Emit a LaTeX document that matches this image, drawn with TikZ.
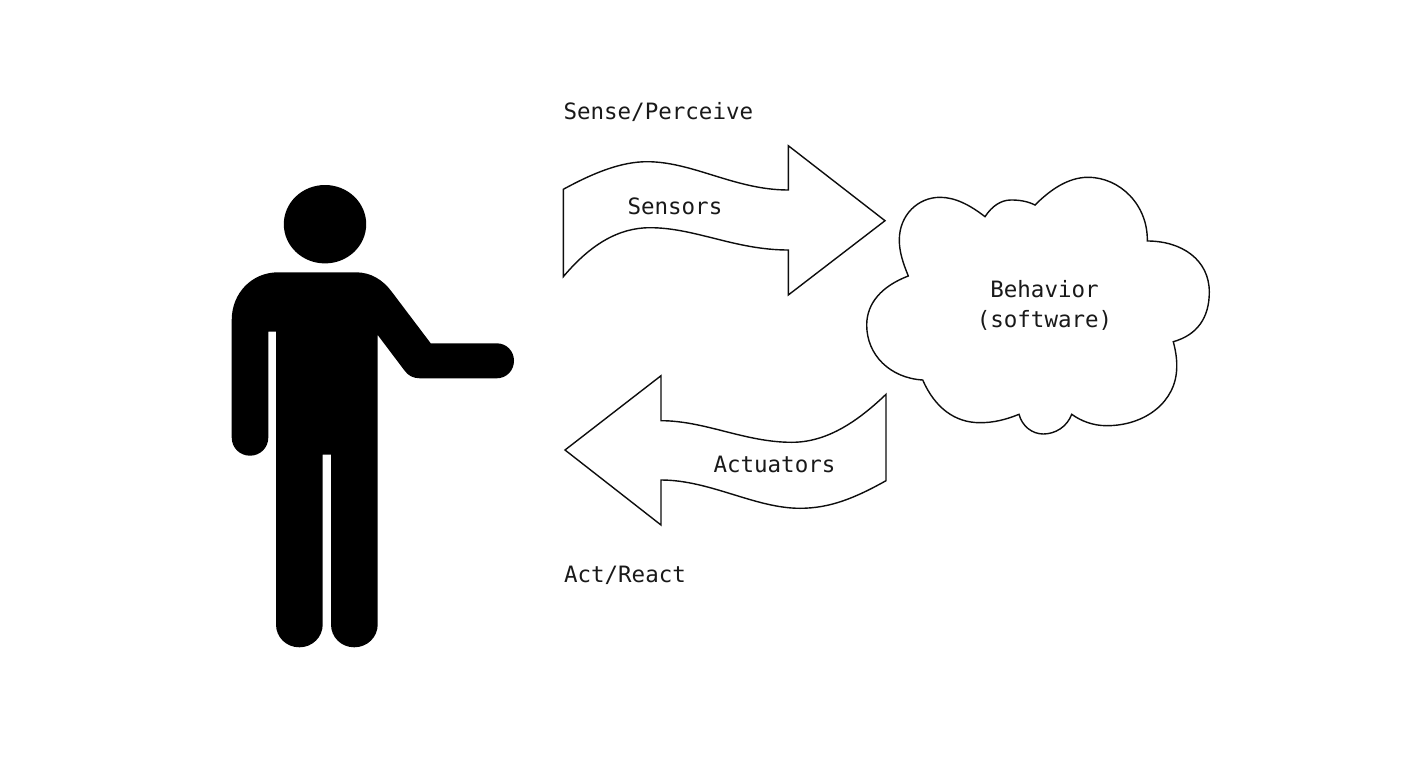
\documentclass[tikz,border=0pt]{standalone}
\usepackage{fontspec}
\setmonofont{DejaVu Sans Mono}
\tikzset{
  figure/.style={fill=black,draw=none},
  outline/.style={draw=black!95,line width=1.4pt,fill=white,line join=miter},
  lbl/.style={inner sep=0pt,outer sep=0pt,text=black!90,font=\fontsize{22.5}{30}\selectfont\ttfamily},
}
\begin{document}
\begin{tikzpicture}[x=1pt,y=-1pt]
\useasboundingbox (0,0) rectangle (1404,776);
% person
\fill[figure] (325,224.2) ellipse [x radius=41.2pt,y radius=39.2pt];
\fill[figure] (278,272.3) -- (356,272.3)
  .. controls (371,272.3) and (383,280) .. (391.7,291.7)
  -- (430.7,343.3) -- (496.7,343.3)
  .. controls (506.5,343.3) and (514,351) .. (514,360.8)
  .. controls (514,370.5) and (506.5,378.3) .. (496.7,378.3)
  -- (420,378.3)
  .. controls (413,378.3) and (408,375.5) .. (404.5,370.5)
  -- (377.7,335) -- (377.7,624.5)
  .. controls (377.7,637) and (367.5,647.3) .. (354.2,647.3)
  .. controls (341,647.3) and (331,637) .. (331,624.5)
  -- (331,454.5) -- (322.7,454.5) -- (322.7,624.5)
  .. controls (322.7,637) and (312.5,647.3) .. (299.4,647.3)
  .. controls (286,647.3) and (276,637) .. (276,624.5)
  -- (276,331.7) -- (268.3,331.7) -- (268.3,437.5)
  .. controls (268.3,448) and (260,455.7) .. (250,455.7)
  .. controls (240,455.7) and (231.7,448) .. (231.7,437.5)
  -- (231.7,320)
  .. controls (231.7,293) and (252,272.3) .. (278,272.3) -- cycle;
% top arrow
\draw[outline] (563.3,189.3)
  .. controls (595,172) and (622,161.7) .. (647,161.7)
  .. controls (693,161.7) and (735,190) .. (788.3,190)
  -- (788.3,145.7) -- (885,220.7) -- (788.3,295) -- (788.3,250)
  .. controls (735,250) and (695,227.7) .. (650,227.7)
  .. controls (618,227.7) and (590,245) .. (563.3,276.7) -- cycle;
% bottom arrow
\draw[outline] (565,450) -- (661,375.7) -- (661,420.7)
  .. controls (705,420.7) and (745,442.3) .. (791.7,442.3)
  .. controls (825,442.3) and (855,424) .. (886,394.3)
  -- (886,480.7)
  .. controls (855,498) and (830,508.3) .. (800,508.3)
  .. controls (755,508.3) and (710,480) .. (661,480)
  -- (661,525) -- cycle;
% cloud
\draw[outline] (985,216.7)
  .. controls (992,206) and (1001,200) .. (1011,200)
  .. controls (1019,200) and (1027,201) .. (1035,205)
  .. controls (1050,190) and (1068,177.3) .. (1088,177.3)
  .. controls (1120,177.3) and (1148,205) .. (1147.3,241)
  .. controls (1182,241) and (1209.3,260) .. (1209.3,292)
  .. controls (1209.3,318) and (1197,335) .. (1173.3,341.7)
  .. controls (1176,352) and (1177,360) .. (1176.7,368)
  .. controls (1176,402) and (1145,425.7) .. (1106.7,425.7)
  .. controls (1093,425.7) and (1081,421) .. (1071.7,414.3)
  .. controls (1067,427) and (1055,434) .. (1043.3,434)
  .. controls (1032,434) and (1022,426) .. (1019,414.3)
  .. controls (1005,420) and (993,422.7) .. (980,422.7)
  .. controls (955,422.7) and (935,408) .. (922.7,380)
  .. controls (890,378) and (866.7,355) .. (866.7,325)
  .. controls (866.7,303) and (882,286) .. (908.3,276)
  .. controls (903,263) and (899.3,252) .. (899.3,240)
  .. controls (899.3,215) and (918,197.3) .. (940,197.3)
  .. controls (955,197.3) and (970,205) .. (985,216.7) -- cycle;
% labels
\node[lbl,anchor=base west] (sense) at (563.5,119) {Sense/Perceive};
\node[lbl,anchor=base west] (sensors) at (627.5,214) {Sensors};
\node[lbl,anchor=base west] (actuators) at (713.5,472) {Actuators};
\node[lbl,anchor=base west] (act) at (564,582.3) {Act/React};
\node[lbl,align=center,anchor=center] (behavior) at (1044.5,305) {Behavior\\(software)};
\end{tikzpicture}
\end{document}
